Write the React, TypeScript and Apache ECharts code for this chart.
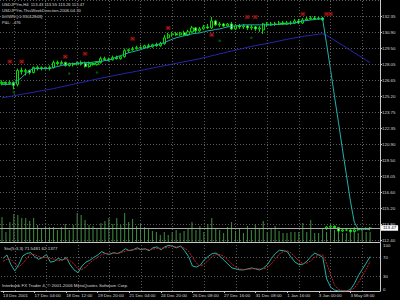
import { useEffect, useRef } from 'react';
import * as echarts from 'echarts';

const slotCount = 96;
const dateLabels = ['13 Dec 2001', '17 Dec 04:00', '18 Dec 12:00', '19 Dec 20:00', '21 Dec 04:00', '24 Dec 20:00', '26 Dec 08:00', '27 Dec 16:00', '31 Dec 08:00', '1 Jan 16:00', '3 Jan 00:00', '3 May 08:00'];
const dateLabelStep = 8;
const gridBars = [3, 11, 19, 27, 35, 43, 51, 59, 67, 75, 83, 91];
const priceTicks = [112.40, 113.80, 115.20, 116.60, 118.05, 119.50, 120.90, 122.35, 123.75, 125.20, 126.65, 128.05, 129.50, 130.90, 132.35];
const stochTicks = [0, 30, 70, 100];
const stochLevels = [30, 70];
const lastPrice = 113.47;
const headerLines = ['USDJPYm,H4  113.43 113.55 113.26 113.47', 'USDJPYm-ThisWeekDirection-2006.04.30', 'DOWN [-1.93012843]', 'P&L: -476'];
const stochTitle = 'Sto(5,3,3) 71.5481 62.1377';
const copyright = 'Interbank FX Trader 4, \u00a9 2001-2006 MetaQuotes Software Corp.';

// [open, close, low, high]
const ohlc = [
  [126.35, 126.44, 126.17, 126.61], [126.44, 126.35, 126.17, 126.52], [126.35, 126.44, 126.26, 126.61], [126.44, 126.17, 125.82, 126.52],
  [126.26, 127.50, 126.08, 127.67], [127.50, 127.41, 127.14, 127.76], [127.41, 127.50, 127.05, 127.67], [127.50, 127.32, 127.14, 127.58],
  [127.32, 127.76, 127.23, 127.85], [127.76, 127.67, 127.50, 127.94], [127.67, 127.76, 127.50, 127.85], [127.76, 127.67, 127.58, 127.85],
  [127.67, 127.76, 127.50, 127.94], [127.76, 128.20, 127.67, 128.38], [128.20, 128.11, 127.94, 128.38], [128.11, 128.20, 128.02, 128.38],
  [128.20, 127.94, 127.85, 128.29], [127.94, 128.11, 127.85, 128.20], [128.11, 128.02, 127.85, 128.20], [128.02, 128.20, 127.94, 128.29],
  [128.20, 128.11, 127.94, 128.38], [128.11, 127.85, 127.76, 128.29], [127.85, 128.11, 127.76, 128.29], [128.11, 128.02, 127.94, 128.20],
  [128.02, 128.20, 127.94, 128.29], [128.20, 128.55, 128.11, 128.73], [128.55, 128.47, 128.38, 128.73], [128.47, 128.45, 128.29, 128.64],
  [128.45, 128.64, 128.38, 128.82], [128.64, 128.55, 128.47, 128.82], [128.55, 128.73, 128.47, 128.82], [128.73, 129.26, 128.64, 129.44],
  [129.26, 129.35, 129.08, 129.44], [129.35, 129.44, 129.26, 129.61], [129.44, 129.53, 129.35, 129.70], [129.53, 129.51, 129.35, 129.79],
  [129.51, 129.70, 129.44, 129.79], [129.70, 129.61, 129.53, 129.88], [129.61, 129.79, 129.53, 129.88], [129.79, 129.70, 129.61, 129.97],
  [129.70, 129.88, 129.61, 130.05], [129.88, 130.41, 129.79, 130.67], [130.41, 130.67, 130.32, 130.85], [130.67, 130.76, 130.50, 130.94],
  [130.76, 130.67, 130.58, 130.94], [130.67, 130.85, 130.58, 130.94], [130.85, 130.67, 130.58, 131.03], [130.67, 130.94, 130.58, 131.11],
  [130.94, 131.29, 130.85, 131.47], [131.29, 131.03, 130.85, 131.38], [131.03, 131.20, 130.94, 131.38], [131.20, 131.38, 131.11, 131.56],
  [131.38, 131.29, 131.20, 131.64], [131.29, 131.91, 131.20, 132.26], [131.91, 131.56, 131.47, 132.00], [131.56, 131.64, 131.38, 131.82],
  [131.64, 131.47, 131.38, 131.73], [131.47, 131.64, 131.38, 131.73], [131.64, 131.20, 131.11, 131.82], [131.20, 131.47, 131.11, 131.64],
  [131.47, 131.38, 131.20, 131.64], [131.38, 131.47, 131.20, 131.64], [131.47, 131.29, 131.11, 131.56], [131.29, 131.38, 131.11, 131.56],
  [131.38, 131.20, 131.03, 131.47], [131.20, 131.29, 130.94, 131.47], [131.11, 131.64, 130.76, 131.73], [131.64, 131.56, 131.38, 131.82],
  [131.56, 131.64, 131.47, 131.82], [131.64, 131.62, 131.47, 131.82], [131.62, 131.73, 131.56, 131.91], [131.73, 131.64, 131.56, 131.91],
  [131.64, 131.73, 131.56, 131.91], [131.73, 131.71, 131.56, 131.91], [131.71, 131.91, 131.64, 132.09], [131.91, 131.73, 131.64, 132.09],
  [131.73, 132.00, 131.64, 132.17], [132.00, 132.09, 131.91, 132.26], [132.09, 132.17, 132.00, 132.35], [132.17, 132.09, 132.00, 132.35],
  [132.09, 132.17, 132.00, 132.26], [132.17, 132.00, 131.91, 132.26],
  [113.42, 113.55, 113.30, 113.65], [113.55, 113.62, 113.45, 113.75], [113.62, 113.50, 113.40, 113.70], [113.50, 113.20, 113.10, 113.55],
  [113.20, 113.30, 113.12, 113.40], [113.30, 113.28, 113.18, 113.42], [113.28, 113.15, 113.05, 113.35], [113.15, 113.30, 113.10, 113.38],
  [113.30, 113.35, 113.22, 113.45], [113.35, 113.38, 113.25, 113.48], [113.38, 113.43, 113.30, 113.52], [113.43, 113.47, 113.26, 113.55],
];

const maFast = [
  126.26, 126.26, 126.26, 126.35, 126.61, 126.88, 127.23, 127.50, 127.67, 127.67, 127.67, 127.67, 127.67, 127.76, 127.85, 127.94,
  128.02, 128.07, 128.11, 128.11, 128.16, 128.20, 128.20, 128.24, 128.29, 128.29, 128.38, 128.42, 128.55, 128.73, 128.82, 128.95,
  129.08, 129.17, 129.26, 129.35, 129.48, 129.57, 129.70, 129.79, 129.88, 129.97, 130.14, 130.28, 130.41, 130.50, 130.59, 130.67,
  130.76, 130.81, 130.85, 130.94, 131.03, 131.07, 131.16, 131.20, 131.29, 131.38, 131.42, 131.47, 131.51, 131.56, 131.56, 131.56,
  131.56, 131.56, 131.56, 131.56, 131.56, 131.60, 131.60, 131.64, 131.64, 131.69, 131.73, 131.82, 131.91, 131.95, 132.00, 132.04,
  132.09, 132.09, 129.88, 127.58, 125.20, 122.90, 120.52, 118.22, 115.93, 113.99, 113.37, 113.37, 113.37, 113.33,
];

const maSlow = [
  125.06, 125.12, 125.18, 125.24, 125.31, 125.38, 125.44, 125.50, 125.56, 125.63, 125.69, 125.76, 125.81, 125.89, 125.96, 126.04,
  126.12, 126.19, 126.27, 126.34, 126.43, 126.50, 126.58, 126.66, 126.73, 126.81, 126.88, 126.95, 127.02, 127.09, 127.16, 127.23,
  127.30, 127.36, 127.43, 127.50, 127.57, 127.64, 127.71, 127.78, 127.85, 127.93, 127.99, 128.06, 128.13, 128.20, 128.27, 128.34,
  128.41, 128.48, 128.55, 128.64, 128.72, 128.81, 128.89, 128.98, 129.06, 129.15, 129.23, 129.30, 129.39, 129.47, 129.56, 129.64,
  129.71, 129.78, 129.84, 129.91, 129.98, 130.05, 130.12, 130.20, 130.27, 130.34, 130.41, 130.48, 130.53, 130.58, 130.63, 130.68,
  130.73, 130.76, 130.63, 130.41, 130.19, 129.97, 129.75, 129.53, 129.30, 129.08, 128.86, 128.64, 128.42, 128.20,
];

const volumes = [
  500, 200, 400, 560, 540, 480, 480, 420, 480, 340, 260, 300, 300, 300, 240, 300, 360, 240, 340, 580, 540, 440, 340, 320,
  280, 380, 420, 480, 360, 480, 340, 580, 400, 460, 320, 360, 300, 280, 220, 200, 140, 200, 140, 200, 240, 180, 220,
  280, 400, 240, 320, 200, 360, 480, 280, 240, 180, 300, 400, 220, 260, 180, 320, 240, 360, 280, 420, 200, 260, 320, 220,
  180, 180, 200, 200, 200, 380, 200, 440, 180, 180, 280,
  200, 340, 240, 200, 180, 180, 240, 300, 180, 280, 200, 200,
];
const volumeAxisMax = 4840;

const stochK = [
  68, 75, 55, 42, 55, 73, 78, 80, 72, 66, 70, 76, 60, 62, 68, 64, 70, 55, 44, 38, 52, 60, 64, 70,
  75, 82, 78, 76, 80, 78, 82, 88, 84, 86, 90, 86, 88, 84, 90, 92, 86, 92, 95, 93, 90, 94, 84, 72,
  52, 50, 54, 65, 72, 78, 79, 72, 64, 56, 48, 46, 44, 44, 46, 48, 46, 44, 48, 55, 68, 78, 85, 84,
  82, 70, 60, 55, 56, 62, 72, 79, 75, 70, 25, 8, 2, 0, 0, 0, 3, 15, 32, 45, 58, 71.55,
];
const stochD = [
  62, 66, 66, 57, 50, 57, 68, 77, 76, 72, 69, 70, 68, 66, 63, 65, 67, 63, 56, 46, 45, 50, 59, 65,
  70, 76, 78, 79, 78, 78, 80, 83, 85, 86, 87, 87, 88, 86, 87, 89, 89, 90, 91, 93, 92, 92, 89, 83,
  70, 58, 52, 56, 64, 72, 76, 76, 72, 64, 56, 50, 46, 45, 45, 46, 47, 46, 46, 49, 57, 67, 77, 82,
  84, 79, 71, 62, 57, 58, 63, 71, 75, 75, 57, 34, 12, 3, 1, 0, 1, 6, 17, 31, 45, 62.14,
];

// [bar, price]
const signalMarks = [[2, 128.29], [5, 128.29], [16, 128.73], [21, 128.99], [33, 130.32], [42, 131.29], [53, 130.67], [62, 132.26], [64, 132.26], [76, 132.53], [82, 132.53], [83, 132.53]];
const fractalDots = [[3, 125.55], [17, 127.23], [24, 127.32], [55, 130.14], [63, 130.41]];

const FONT = '"Liberation Sans", Arial, sans-serif';
const FG = '#d8d8d8';
const FRAME = '#c8c8c8';
const GRIDC = '#5a5a5a';

export default function App() {
  const ref = useRef<HTMLDivElement>(null);
  useEffect(() => {
    document.body.style.margin = '0';
    document.body.style.background = '#000';
    const chart = echarts.init(ref.current!, undefined, { renderer: 'svg' });
    const cats = Array.from({ length: slotCount }, (_, i) => String(i));
    const crossPath = 'path://M0 1L1 0L5 4L9 0L10 1L6 5L10 9L9 10L5 6L1 10L0 9L4 5Z';
    const vLines = gridBars.map((b) => ({ xAxis: b }));
    const option: any = {
      animation: false,
      backgroundColor: '#000',
      grid: [
        { left: 0, top: -2.14, width: 380, height: 242.14 },
        { left: 0, top: 243, width: 380, height: 48 },
        { left: 0, top: 0, width: 380, height: 242 },
      ],
      xAxis: [
        { type: 'category', gridIndex: 0, data: cats, boundaryGap: true, show: false },
        {
          type: 'category', gridIndex: 1, data: cats, boundaryGap: true,
          axisLine: { show: true, lineStyle: { color: FRAME, width: 1 } },
          axisTick: { show: true, interval: dateLabelStep - 1, alignWithLabel: true, length: 2, lineStyle: { color: FRAME } },
          axisLabel: {
            interval: dateLabelStep - 1, align: 'left', margin: 2, fontSize: 4.4, color: FG, fontFamily: FONT,
            formatter: (_v: string, idx: number) => (idx % dateLabelStep === 0 ? dateLabels[idx / dateLabelStep] || '' : ''),
          },
          splitLine: { show: false },
        },
        {
          type: 'category', gridIndex: 2, data: cats, boundaryGap: true,
          axisLine: { show: true, lineStyle: { color: FRAME, width: 1 } },
          axisTick: { show: false }, axisLabel: { show: false }, splitLine: { show: false },
        },
      ],
      yAxis: [
        {
          type: 'value', gridIndex: 0, position: 'right', min: 112.4, max: 133.775, interval: 1.425, scale: true,
          axisLine: { show: true, lineStyle: { color: FRAME } },
          axisTick: { show: true, length: 2, lineStyle: { color: FRAME } },
          axisLabel: {
            margin: 2, fontSize: 4.4, color: FG, fontFamily: FONT, showMaxLabel: false,
            formatter: (v: number) => {
              const t = priceTicks.find((p) => Math.abs(p - v) < 0.1);
              return t === undefined ? '' : t.toFixed(2);
            },
          },
          splitLine: { show: true, lineStyle: { color: GRIDC, type: [1, 2], width: 1 } },
        },
        {
          type: 'value', gridIndex: 1, position: 'right', min: 0, max: 100, interval: 10,
          axisLine: { show: true, lineStyle: { color: FRAME } },
          axisTick: { show: false },
          axisLabel: {
            margin: 3, fontSize: 4.4, color: FG, fontFamily: FONT,
            verticalAlignMinLabel: 'bottom', verticalAlignMaxLabel: 'top',
            formatter: (v: number) => (stochTicks.includes(Math.round(v)) ? String(Math.round(v)) : ''),
          },
          splitLine: { show: false },
        },
        {
          type: 'value', gridIndex: 2, position: 'right', min: 0, max: volumeAxisMax,
          axisLine: { show: true, lineStyle: { color: FRAME } },
          axisTick: { show: false }, axisLabel: { show: false }, splitLine: { show: false },
        },
      ],
      series: [
        {
          type: 'bar', xAxisIndex: 2, yAxisIndex: 2, data: volumes, barWidth: 1, z: 1,
          itemStyle: { color: '#3f8f3f' }, silent: true,
          markLine: {
            silent: true, symbol: 'none', label: { show: false },
            lineStyle: { color: GRIDC, type: [1, 2], width: 1 },
            data: vLines,
          },
        },
        {
          type: 'line', xAxisIndex: 0, yAxisIndex: 0, data: maSlow, showSymbol: false, z: 2,
          lineStyle: { color: '#2626b0', width: 1 },
        },
        {
          type: 'candlestick', xAxisIndex: 0, yAxisIndex: 0, data: ohlc, barWidth: 2.6, z: 3,
          itemStyle: { color: '#000', color0: '#e8ffe8', borderColor: '#00e000', borderColor0: '#00e000', borderWidth: 1 },
          markLine: {
            silent: true, symbol: 'none',
            data: [{
              yAxis: lastPrice,
              lineStyle: { color: '#a8a8a8', type: 'solid', width: 1 },
              label: {
                show: true, position: 'end', distance: 1, formatter: lastPrice.toFixed(2), fontSize: 4.4, fontFamily: FONT,
                color: '#000', backgroundColor: '#fff', padding: [1, 2, 0.5, 2],
              },
            }],
          },
        },
        {
          type: 'line', xAxisIndex: 0, yAxisIndex: 0, data: maFast, showSymbol: false, z: 4,
          lineStyle: { color: '#20b2aa', width: 1 },
        },
        {
          type: 'scatter', xAxisIndex: 0, yAxisIndex: 0, data: signalMarks, symbol: 'rect', symbolSize: [5, 4], z: 5,
          itemStyle: { color: '#6a0a0a' }, silent: true,
        },
        {
          type: 'scatter', xAxisIndex: 0, yAxisIndex: 0, data: signalMarks, symbol: crossPath, symbolSize: [3.4, 3], z: 6,
          itemStyle: { color: '#ff3030' }, silent: true,
        },
        {
          type: 'scatter', xAxisIndex: 0, yAxisIndex: 0, data: fractalDots, symbol: 'circle', symbolSize: 2.5, z: 5,
          itemStyle: { color: '#0a6a0a' }, silent: true,
        },
        {
          type: 'line', xAxisIndex: 1, yAxisIndex: 1, data: stochK, showSymbol: false, z: 3,
          lineStyle: { color: '#20b2aa', width: 1 },
          markLine: {
            silent: true, symbol: 'none', label: { show: false },
            lineStyle: { color: GRIDC, type: [1, 2], width: 1 },
            data: [...stochLevels.map((l) => ({ yAxis: l })), ...vLines],
          },
        },
        {
          type: 'line', xAxisIndex: 1, yAxisIndex: 1, data: stochD, showSymbol: false, z: 3,
          lineStyle: { color: '#c81e1e', width: 1, type: [2, 1] },
        },
      ],
      graphic: [
        ...headerLines.map((t, i) => ({
          type: 'text', left: 2, top: 2 + i * 6.1, silent: true,
          style: { text: t, fill: FG, fontSize: 4.2, fontFamily: FONT },
        })),
        { type: 'text', left: 4, top: 246, silent: true, style: { text: stochTitle, fill: FG, fontSize: 4.4, fontFamily: FONT } },
        { type: 'text', left: 2, top: 283, silent: true, style: { text: copyright, fill: FG, fontSize: 4.4, fontFamily: FONT } },
      ],
    };
    chart.setOption(option);
    return () => chart.dispose();
  }, []);
  return <div ref={ref} style={{ width: 400, height: 300, background: '#000' }} />;
}
